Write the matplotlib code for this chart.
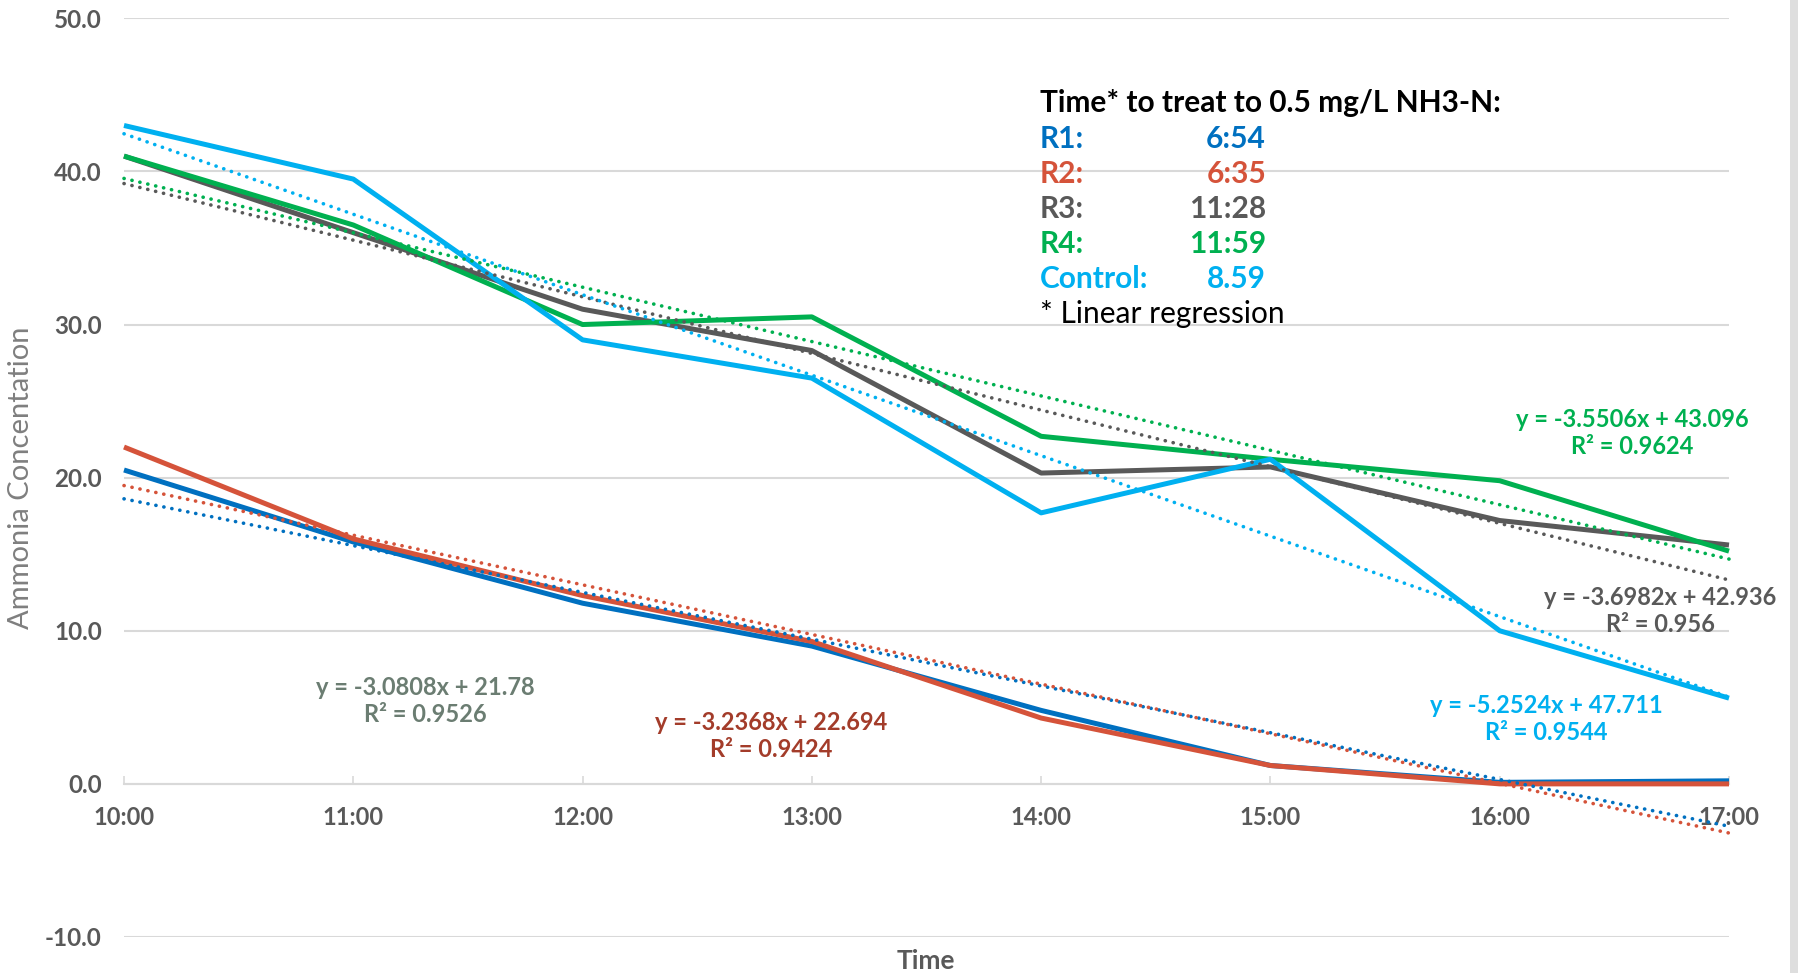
import numpy as np
import matplotlib
matplotlib.use("Agg")
import matplotlib.pyplot as plt
from matplotlib.patches import Rectangle

# ---------------- data ----------------
times = ["10:00", "11:00", "12:00", "13:00", "14:00", "15:00", "16:00", "17:00"]
r1 = [20.5, 15.8, 11.8, 9.0, 4.8, 1.2, 0.1, 0.2]
r2 = [22.0, 16.0, 12.3, 9.3, 4.3, 1.2, 0.0, 0.0]
r3 = [41.0, 36.0, 31.0, 28.3, 20.3, 20.7, 17.2, 15.6]
r4 = [41.0, 36.5, 30.0, 30.5, 22.7, 21.2, 19.8, 15.2]
control = [43.0, 39.5, 29.0, 26.5, 17.7, 21.2, 10.0, 5.6]

series_names = ["R1", "R2", "R3", "R4", "Control"]
series_values = [r1, r2, r3, r4, control]
series_colors = ["#0070C0", "#D5533A", "#595959", "#00B050", "#00B0F0"]

eq_texts = ["y = -3.0808x + 21.78\nR² = 0.9526",
            "y = -3.2368x + 22.694\nR² = 0.9424",
            "y = -3.6982x + 42.936\nR² = 0.956",
            "y = -3.5506x + 43.096\nR² = 0.9624",
            "y = -5.2524x + 47.711\nR² = 0.9544"]
eq_colors = ["#6B7D72", "#A33C2A", "#595959", "#00B050", "#00B0F0"]

legend_header = "Time* to treat to 0.5 mg/L NH3-N:"
legend_labels = ["R1:", "R2:", "R3:", "R4:", "Control:"]
legend_values = ["6:54", "6:35", "11:28", "11:59", "8.59"]
legend_colors = ["#0070C0", "#D5533A", "#595959", "#00B050", "#00B0F0"]
legend_footer = "* Linear regression"

yticks = [-10, 0, 10, 20, 30, 40, 50]

# ---------------- figure ----------------
W, H = 1798, 973
fig = plt.figure(figsize=(W / 100, H / 100), dpi=100)
FONT = "Lato"
plt.rcParams["font.family"] = [FONT, "DejaVu Sans"]

def fx(px):
    return px / W

def fy(py):
    return 1 - py / H

ax = fig.add_axes([fx(124), fy(937), fx(1729) - fx(124), fy(18.3) - fy(937)])
x = np.arange(1, len(times) + 1)

ax.set_xlim(1, len(times))
ax.set_ylim(-10, 50)
ax.set_yticks(yticks)
ax.set_yticklabels([f"{v:.1f}" for v in yticks])
ax.set_xticks(x)
ax.set_xticklabels(times)

grid_c = "#D9D9D9"
ax.yaxis.grid(True, color=grid_c, linewidth=1.5, zorder=0)
ax.set_axisbelow(True)
for s in ["left", "right", "top"]:
    ax.spines[s].set_visible(False)
ax.spines["bottom"].set_position(("data", 0))
ax.spines["bottom"].set_color(grid_c)
ax.spines["bottom"].set_linewidth(1.5)

tick_c = "#595959"
ax.tick_params(axis="y", length=0, pad=16, labelsize=17.5, labelcolor=tick_c)
ax.tick_params(axis="x", direction="in", length=6, width=1.2, color=grid_c,
               pad=16, labelsize=17, labelcolor=tick_c)
for lab in ax.get_xticklabels() + ax.get_yticklabels():
    lab.set_fontweight("bold")

# data lines
for vals, col in zip(series_values, series_colors):
    ax.plot(x, vals, color=col, linewidth=3.6, solid_joinstyle="round",
            solid_capstyle="butt", zorder=3, clip_on=False)

# linear trendlines (fitted from the data)
for vals, col in zip(series_values, series_colors):
    m, b = np.polyfit(x, vals, 1)
    ax.plot(x, m * x + b, color=col, linewidth=2.6, linestyle=(0, (0.05, 2.2)),
            dash_capstyle="round", zorder=4, clip_on=False)

# axis labels
fig.text(fx(21), fy(478), "Ammonia Concentation", rotation=90, ha="center",
         va="center", fontsize=21, color="#7F7F7F")
fig.text(fx(926), fy(961), "Time", ha="center", va="center", fontsize=19,
         fontweight="bold", color=tick_c)

# equation labels (pixel positions of centres)
eq_pos = [(425, 701), (771, 736), (1660, 611), (1632, 433), (1546, 719)]
for (px, py), t, c in zip(eq_pos, eq_texts, eq_colors):
    fig.text(fx(px), fy(py), t, ha="center", va="center", fontsize=17,
             fontweight="bold", color=c, linespacing=1.2)

# legend-like text block
lx, lx2 = 1040, 1266
fig.text(fx(lx), fy(103), legend_header, ha="left", va="center", fontsize=21.5,
         fontweight="bold", color="black")
for i, (lab, val, c) in enumerate(zip(legend_labels, legend_values, legend_colors)):
    yy = 138.5 + i * 35.2
    fig.text(fx(lx), fy(yy), lab, ha="left", va="center", fontsize=21.5,
             fontweight="bold", color=c)
    fig.text(fx(lx2), fy(yy), val, ha="right", va="center", fontsize=21.5,
             fontweight="bold", color=c)
fig.text(fx(lx), fy(314), legend_footer, ha="left", va="center", fontsize=21.5,
         color="black")

# right grey border strip
fig.patches.append(Rectangle((fx(1790), 0), 1 - fx(1790), 1, transform=fig.transFigure,
                             facecolor="#DEDEDE", edgecolor="none", zorder=0))

fig.savefig("out.png", dpi=100)
